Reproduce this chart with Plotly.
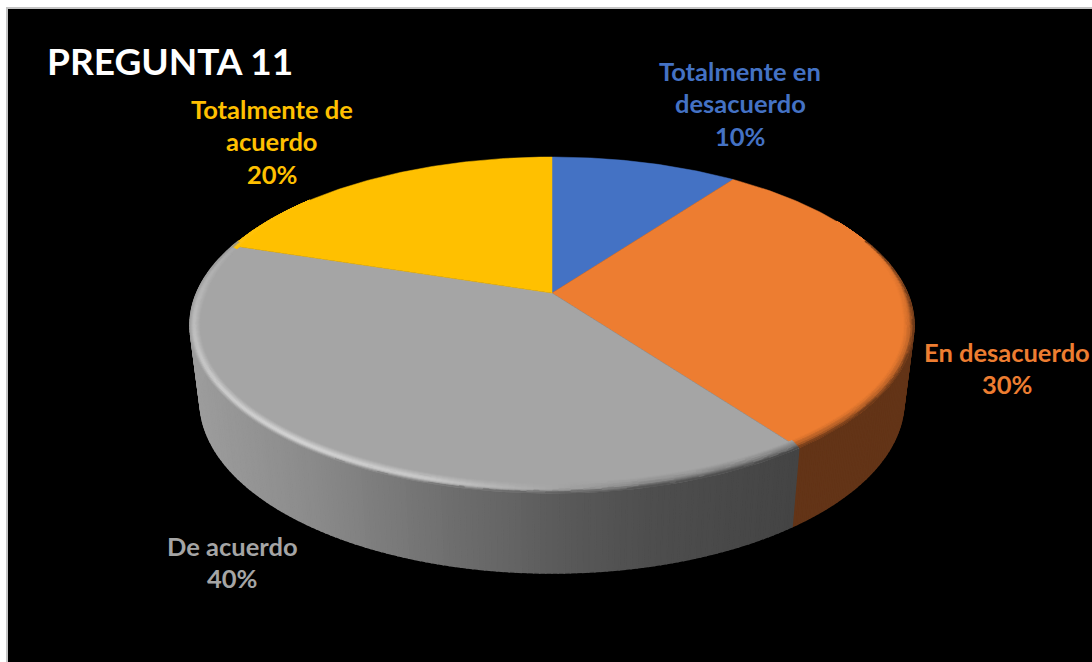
import numpy as np
import plotly.graph_objects as go

# data
categories = ["Totalmente en desacuerdo", "En desacuerdo", "De acuerdo", "Totalmente de acuerdo"]
values = [10, 30, 40, 20]
colors = ["#4472C4", "#ED7D31", "#A5A5A5", "#FFC000"]
label_lines = [["Totalmente en", "desacuerdo"], ["En desacuerdo"], ["De acuerdo"], ["Totalmente de", "acuerdo"]]
title_text = "PREGUNTA 11"

# pie drawn by hand: plotly has no tilted pie with perspective
cx, cy, rx, ry = 552, 325, 362, 168     # top ellipse
bx, by, brx, bry = 552, 401, 352, 172   # bottom ellipse
tilt = 0.19                             # how far the apex sits above the ellipse centre


def project(theta):
    u, v = np.sin(theta), np.cos(theta)
    d = 1 + tilt * v
    return u * np.sqrt(1 - tilt ** 2) / d, (v + tilt) / d


def rgb(c):
    return np.array([int(c[i:i + 2], 16) for i in (1, 3, 5)], dtype=float)


def hexc(a):
    return "#%02x%02x%02x" % tuple(int(round(min(255, max(0, k)))) for k in a)


def top_pt(t, inset=0.0):
    return cx + (rx - inset) * np.sin(t), cy - (ry - inset) * np.cos(t)


def bot_pt(t):
    return bx + brx * np.sin(t), by - bry * np.cos(t)


fractions = np.cumsum([0] + values) / sum(values)
edges_t = []
for f in fractions:
    u, v = project(2 * np.pi * f)
    edges_t.append(np.degrees(np.arctan2(u, v)) % 360)
edges_t[-1] = 360.0


def slice_index(deg):
    for i in range(len(values)):
        if edges_t[i] <= deg % 360 < edges_t[i + 1]:
            return i
    return 0


def side_color(deg):
    i = slice_index(deg)
    if colors[i] == "#ED7D31":
        return rgb("#633417")
    x = top_pt(np.radians(deg))[0]
    g = np.interp(x, [195, 300, 440, 500, 560, 650, 795], [156, 140, 112, 102, 90, 78, 68])
    return np.array([g, g, g])


def add_groups(fig, groups, lw):
    for col, (xs, ys) in groups.items():
        fig.add_trace(go.Scatter(x=xs, y=ys, mode="lines", fill="toself", fillcolor=col,
                                 line=dict(color=col, width=lw), hoverinfo="skip", showlegend=False))


def add_quad(groups, col, pts):
    xs, ys = groups.setdefault(col, ([], []))
    xs.extend([p[0] for p in pts] + [pts[0][0], None])
    ys.extend([p[1] for p in pts] + [pts[0][1], None])


fig = go.Figure()

# side wall
side = {}
step = 1.0
for deg in np.arange(60, 300, step):
    a, b = np.radians(deg), np.radians(deg + step)
    add_quad(side, hexc(side_color(deg + step / 2)), [top_pt(a), top_pt(b), bot_pt(b), bot_pt(a)])
add_groups(fig, side, 1.5)

# top face
for i, col in enumerate(colors):
    theta = np.linspace(2 * np.pi * fractions[i], 2 * np.pi * fractions[i + 1], 120)
    u, v = project(theta)
    xs = [cx] + list(cx + rx * u) + [cx]
    ys = [cy - ry * tilt] + list(cy - ry * v) + [cy - ry * tilt]
    fig.add_trace(go.Scatter(x=xs, y=ys, mode="lines", fill="toself", fillcolor=col,
                             line=dict(color=col, width=0.5), hoverinfo="skip", showlegend=False,
                             name=categories[i]))

# bevel on the rim
rim = {}
bands = np.linspace(0, 1, 11)
for deg in np.arange(50, 320, step):
    mid = deg + step / 2
    light = np.interp(mid, [60, 90, 133, 165, 182, 200, 225, 250, 270, 298, 320],
                      [0, -0.3, -0.45, -0.35, 0.05, 0.42, 0.55, 0.45, 0.3, 0.08, 0])
    width = np.interp(mid, [50, 85, 280, 320], [0, 10, 10, 0])
    if width <= 0.5:
        continue
    face = rgb(colors[slice_index(mid)])
    wall = side_color(mid)
    outer = wall if 60 < mid < 300 else face
    peak = face + light * (255 - face) if light > 0 else face + (-light) * (wall - face)
    a, b = np.radians(deg), np.radians(deg + step)
    for j in range(len(bands) - 1):
        s = (bands[j] + bands[j + 1]) / 2
        c = face + (peak - face) * (s / 0.6) if s < 0.6 else peak + (outer - peak) * ((s - 0.6) / 0.4)
        i0, i1 = width * (1 - bands[j]), width * (1 - bands[j + 1])
        add_quad(rim, hexc(c), [top_pt(a, i0), top_pt(b, i0), top_pt(b, i1), top_pt(a, i1)])
add_groups(fig, rim, 1)

# labels, one annotation per line so the line spacing can follow the picture
label_centres = [(740, 70.5), (1007, 351.5), (232, 545.5), (272, 108.5)]
line_gap = 32.5
annotations = [dict(x=44.5, y=60, text=title_text, xanchor="left", yanchor="middle", showarrow=False,
                    font=dict(family="Lato", size=37, color="#FFFFFF", weight="bold"))]
for i, lines in enumerate(label_lines):
    for k, line in enumerate(lines + ["%d%%" % round(100 * values[i] / sum(values))]):
        annotations.append(dict(x=label_centres[i][0], y=label_centres[i][1] + k * line_gap, text=line,
                                xanchor="center", yanchor="middle", showarrow=False,
                                font=dict(family="Lato", size=25.5, color=colors[i], weight="bold")))

fig.update_layout(
    width=1092, height=662, margin=dict(l=0, r=0, t=0, b=0), autosize=False,
    paper_bgcolor="#FFFFFF", plot_bgcolor="#FFFFFF", showlegend=False,
    xaxis=dict(range=[0, 1092], visible=False, fixedrange=True),
    yaxis=dict(range=[662, 0], visible=False, fixedrange=True),
    shapes=[dict(type="rect", xref="x", yref="y", x0=7, y0=8, x1=1100, y1=670,
                 fillcolor="#000000", line=dict(color="#C4C4C4", width=2), layer="below")],
    annotations=annotations,
)

# the page's default body margin would push the figure 8px off
fig.write_html("out.html", config=dict(displayModeBar=False),
               post_script="document.body.style.margin='0';document.body.style.overflow='hidden';")
